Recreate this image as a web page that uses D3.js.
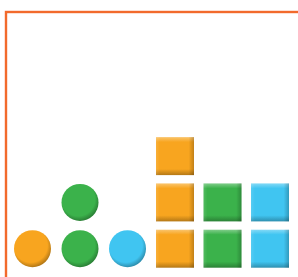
<!DOCTYPE html>
<html>
<head>
<meta charset="utf-8">
<script src="https://cdn.jsdelivr.net/npm/d3@7"></script>
<style>
html,body{margin:0;padding:0;background:#fff;overflow:hidden;}
svg{display:block;}
</style>
</head>
<body>
<svg id="chart" width="298" height="277"></svg>
<script>
const series = ["orange", "green", "blue"];
const colors = ["#f8a51f", "#3bb24b", "#40c5f1"];
const shapes = ["circle", "square"];
const circleCounts = [1, 2, 1];
const squareCounts = [3, 2, 2];

const svg = d3.select("#chart");
const W = 298, H = 277;

// frame (cropped)
svg.append("rect")
  .attr("x", 6).attr("y", 12)
  .attr("width", 400).attr("height", 400)
  .attr("fill", "none")
  .attr("stroke", "#f26a2c")
  .attr("stroke-width", 2.4);

const defs = svg.append("defs");
colors.forEach((c, i) => {
  const base = d3.color(c);
  const light = d3.interpolateRgb(c, "#ffffff")(0.35);
  const dark = base.darker(0.9).formatHex();
  const rg = defs.append("radialGradient").attr("id", "rg" + i)
    .attr("cx", "45%").attr("cy", "42%").attr("r", "58%").attr("fx", "45%").attr("fy", "40%");
  rg.append("stop").attr("offset", "0%").attr("stop-color", c);
  rg.append("stop").attr("offset", "78%").attr("stop-color", c);
  rg.append("stop").attr("offset", "100%").attr("stop-color", dark);
  const lg = defs.append("linearGradient").attr("id", "lg" + i)
    .attr("x1", 0).attr("y1", 0).attr("x2", 0).attr("y2", 1);
  lg.append("stop").attr("offset", "0%").attr("stop-color", light);
  lg.append("stop").attr("offset", "13%").attr("stop-color", c);
  lg.append("stop").attr("offset", "84%").attr("stop-color", c);
  lg.append("stop").attr("offset", "100%").attr("stop-color", dark);
});
const hg = defs.append("linearGradient").attr("id", "hshade")
  .attr("x1", 0).attr("y1", 0).attr("x2", 1).attr("y2", 0);
hg.append("stop").attr("offset", "0%").attr("stop-color", "#fff").attr("stop-opacity", 0.12);
hg.append("stop").attr("offset", "10%").attr("stop-color", "#fff").attr("stop-opacity", 0);
hg.append("stop").attr("offset", "86%").attr("stop-color", "#000").attr("stop-opacity", 0);
hg.append("stop").attr("offset", "100%").attr("stop-color", "#000").attr("stop-opacity", 0.22);

// columns: 6 (shape x series)
const cols = [];
shapes.forEach(s => series.forEach((se, i) => cols.push(s + "-" + se)));
const x = d3.scaleBand().domain(cols).range([8.75, 293.75]);
const y = d3.scaleLinear().domain([0, 1]).range([248.7, 202.4]);

const units = [];
shapes.forEach(s => {
  const counts = s === "circle" ? circleCounts : squareCounts;
  series.forEach((se, i) => {
    for (let k = 0; k < counts[i]; k++) units.push({shape: s, si: i, col: s + "-" + se, k});
  });
});

const cx = d => x(d.col) + x.bandwidth() / 2;

svg.selectAll("circle.unit").data(units.filter(d => d.shape === "circle"))
  .join("circle").attr("class", "unit")
  .attr("cx", cx).attr("cy", d => y(d.k)).attr("r", 18.5)
  .attr("fill", d => `url(#rg${d.si})`);

const sq = 38;
const g = svg.selectAll("g.sq").data(units.filter(d => d.shape === "square"))
  .join("g").attr("class", "sq")
  .attr("transform", d => `translate(${cx(d) - sq / 2},${y(d.k) - sq / 2})`);
g.append("rect").attr("width", sq).attr("height", sq).attr("fill", d => `url(#lg${d.si})`);
g.append("rect").attr("width", sq).attr("height", sq).attr("fill", "url(#hshade)");
</script>
</body>
</html>
